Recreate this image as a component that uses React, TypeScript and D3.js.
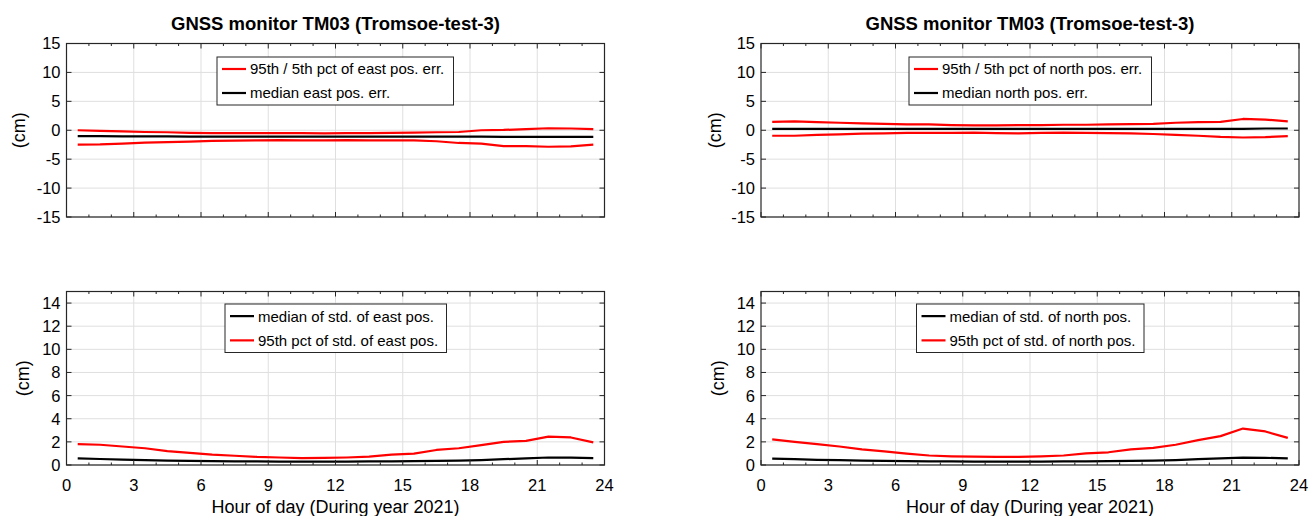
import React from 'react'
import * as d3 from 'd3'

// hourly bins, centred on the half hour
const hours = d3.range(24).map(h => h + 0.5)

const eastUpper = [0.0, -0.1, -0.2, -0.3, -0.35, -0.45, -0.5, -0.5, -0.5, -0.5, -0.5, -0.55, -0.5, -0.5, -0.45, -0.4, -0.35, -0.3, 0.0, 0.05, 0.2, 0.35, 0.3, 0.2]
const eastLower = [-2.5, -2.45, -2.3, -2.15, -2.05, -1.95, -1.85, -1.8, -1.75, -1.7, -1.75, -1.75, -1.7, -1.75, -1.75, -1.75, -1.9, -2.2, -2.3, -2.75, -2.75, -2.85, -2.8, -2.5]
const eastMedian = [-1.0, -1.0, -1.05, -1.05, -1.05, -1.1, -1.1, -1.1, -1.1, -1.1, -1.1, -1.1, -1.1, -1.1, -1.1, -1.1, -1.1, -1.1, -1.1, -1.15, -1.15, -1.15, -1.15, -1.15]

const northUpper = [1.45, 1.55, 1.4, 1.3, 1.2, 1.1, 1.0, 1.0, 0.9, 0.85, 0.85, 0.9, 0.9, 0.95, 0.95, 1.0, 1.05, 1.1, 1.3, 1.4, 1.45, 1.95, 1.85, 1.55]
const northLower = [-0.95, -0.95, -0.8, -0.7, -0.6, -0.55, -0.45, -0.45, -0.45, -0.4, -0.5, -0.55, -0.45, -0.4, -0.45, -0.5, -0.55, -0.65, -0.8, -0.95, -1.15, -1.25, -1.2, -1.0]
const northMedian = [0.25, 0.25, 0.25, 0.25, 0.25, 0.25, 0.25, 0.25, 0.25, 0.25, 0.25, 0.25, 0.25, 0.25, 0.25, 0.25, 0.25, 0.25, 0.25, 0.25, 0.25, 0.25, 0.3, 0.3]

const eastStd95 = [1.8, 1.75, 1.6, 1.45, 1.2, 1.05, 0.9, 0.8, 0.7, 0.65, 0.6, 0.62, 0.65, 0.72, 0.9, 0.98, 1.3, 1.45, 1.72, 2.0, 2.08, 2.45, 2.38, 1.95]
const eastStdMedian = [0.58, 0.52, 0.47, 0.42, 0.38, 0.35, 0.33, 0.32, 0.31, 0.3, 0.3, 0.3, 0.3, 0.31, 0.32, 0.33, 0.35, 0.37, 0.42, 0.5, 0.58, 0.65, 0.64, 0.6]
const northStd95 = [2.22, 2.0, 1.8, 1.6, 1.35, 1.18, 0.98, 0.82, 0.75, 0.72, 0.7, 0.7, 0.75, 0.82, 1.0, 1.1, 1.35, 1.48, 1.75, 2.15, 2.5, 3.15, 2.9, 2.35]
const northStdMedian = [0.55, 0.5, 0.45, 0.42, 0.38, 0.35, 0.33, 0.32, 0.31, 0.3, 0.3, 0.3, 0.3, 0.31, 0.32, 0.33, 0.35, 0.37, 0.42, 0.5, 0.57, 0.63, 0.62, 0.57]

const xTicks = [0, 3, 6, 9, 12, 15, 18, 21, 24]
const errTicks = [-15, -10, -5, 0, 5, 10, 15]
const stdTicks = [0, 2, 4, 6, 8, 10, 12, 14]

const title = 'GNSS monitor TM03 (Tromsoe-test-3)'
const xTitle = 'Hour of day (During year 2021)'
const yTitle = '(cm)'

const FONT = '"Liberation Sans", Arial, Helvetica, sans-serif'
const RED = '#ff0000'
const BLACK = '#000000'
const AXIS = '#262626'

type Series = { values: number[], color: string }
type LegendItem = { color: string, label: string }

function Panel (props: {
  left: number, top: number, width: number, height: number,
  yDomain: [number, number], yTicks: number[], series: Series[],
  legend: LegendItem[], legendBox: { x: number, y: number, w: number, h: number },
  showTitle: boolean, showXLabels: boolean, yLabelX: number
}) {
  const { left, top, width, height, yDomain, yTicks, series, legend, legendBox, showTitle, showXLabels, yLabelX } = props
  const x = d3.scaleLinear().domain([0, 24]).range([0, width])
  const y = d3.scaleLinear().domain(yDomain).range([height, 0])
  const line = d3.line<number>().x((_, i) => x(hours[i])).y(v => y(v))
  const minor = d3.range(0, 25).filter(h => h % 3 !== 0)
  const rowH = legendBox.h / legend.length
  return <g transform={`translate(${left},${top})`}>
    {/* grid */}
    {xTicks.slice(1, -1).map(v => <line key={'gx' + v} x1={x(v)} x2={x(v)} y1={0} y2={height} stroke='#dfdfdf' strokeWidth={1} />)}
    {yTicks.map(v => <line key={'gy' + v} x1={0} x2={width} y1={y(v)} y2={y(v)} stroke='#dfdfdf' strokeWidth={1} />)}
    {/* data */}
    {series.map((s, i) => <path key={i} d={line(s.values) || ''} fill='none' stroke={s.color} strokeWidth={2.2} strokeLinejoin='round' />)}
    {/* ticks */}
    {xTicks.map(v => <g key={'tx' + v}>
      <line x1={x(v)} x2={x(v)} y1={height} y2={height - 5} stroke={AXIS} />
      <line x1={x(v)} x2={x(v)} y1={0} y2={5} stroke={AXIS} />
    </g>)}
    {minor.map(v => <g key={'mx' + v}>
      <line x1={x(v)} x2={x(v)} y1={height} y2={height - 2.5} stroke={AXIS} />
      <line x1={x(v)} x2={x(v)} y1={0} y2={2.5} stroke={AXIS} />
    </g>)}
    {yTicks.map(v => <g key={'ty' + v}>
      <line x1={0} x2={5} y1={y(v)} y2={y(v)} stroke={AXIS} />
      <line x1={width} x2={width - 5} y1={y(v)} y2={y(v)} stroke={AXIS} />
      <text x={-6} y={y(v)} dy='0.36em' textAnchor='end' fontSize={16.5} fill='#000'>{v}</text>
    </g>)}
    <rect x={0} y={0} width={width} height={height} fill='none' stroke={AXIS} strokeWidth={1.2} />
    {showXLabels && xTicks.map(v => <text key={'lx' + v} x={x(v)} y={height + 26} textAnchor='middle' fontSize={16.5} fill='#000'>{v}</text>)}
    {showXLabels && <text x={width / 2} y={height + 48} textAnchor='middle' fontSize={18} fill='#000'>{xTitle}</text>}
    {showTitle && <text x={width / 2} y={-14} textAnchor='middle' fontSize={18.5} fontWeight='bold' fill='#000'>{title}</text>}
    <text transform={`translate(${yLabelX},${height / 2}) rotate(-90)`} textAnchor='middle' dy='0.35em' fontSize={18} fill='#000'>{yTitle}</text>
    {/* legend */}
    <g transform={`translate(${legendBox.x},${legendBox.y})`}>
      <rect x={0} y={0} width={legendBox.w} height={legendBox.h} fill='#fff' stroke={AXIS} strokeWidth={1} />
      {legend.map((l, i) => <g key={i} transform={`translate(0,${rowH * (i + 0.5)})`}>
        <line x1={5} x2={29} y1={0} y2={0} stroke={l.color} strokeWidth={2.2} />
        <text x={33} y={0} dy='0.36em' fontSize={15} fill='#000'>{l.label}</text>
      </g>)}
    </g>
  </g>
}

export default function App () {
  const W = 538
  const H1 = 173.5
  const cols = [66.5, 761]
  const topY = 43.5
  const botY = 291.5
  return <svg width={1309} height={516} style={{ position: 'absolute', left: 0, top: 0, background: '#fff', fontFamily: FONT }}>
    <rect width={1309} height={516} fill='#fff' />
    <Panel left={cols[0]} top={topY} width={W} height={H1} yDomain={[-15, 15]} yTicks={errTicks} yLabelX={-48}
      series={[
        { values: eastUpper, color: RED },
        { values: eastLower, color: RED },
        { values: eastMedian, color: BLACK }
      ]}
      legend={[{ color: RED, label: '95th / 5th pct of east pos. err.' }, { color: BLACK, label: 'median east pos. err.' }]}
      legendBox={{ x: 150.5, y: 13.5, w: 236.5, h: 48 }} showTitle showXLabels={false} />
    <Panel left={cols[1]} top={topY} width={W} height={H1} yDomain={[-15, 15]} yTicks={errTicks} yLabelX={-46}
      series={[
        { values: northUpper, color: RED },
        { values: northLower, color: RED },
        { values: northMedian, color: BLACK }
      ]}
      legend={[{ color: RED, label: '95th / 5th pct of north pos. err.' }, { color: BLACK, label: 'median north pos. err.' }]}
      legendBox={{ x: 148, y: 13.5, w: 242.5, h: 48 }} showTitle showXLabels={false} />
    <Panel left={cols[0]} top={botY} width={W} height={H1} yDomain={[0, 15]} yTicks={stdTicks} yLabelX={-44}
      series={[
        { values: eastStdMedian, color: BLACK },
        { values: eastStd95, color: RED }
      ]}
      legend={[{ color: BLACK, label: 'median of std. of east pos.' }, { color: RED, label: '95th pct of std. of east pos.' }]}
      legendBox={{ x: 158.5, y: 12.5, w: 221.5, h: 48.5 }} showTitle={false} showXLabels />
    <Panel left={cols[1]} top={botY} width={W} height={H1} yDomain={[0, 15]} yTicks={stdTicks} yLabelX={-43}
      series={[
        { values: northStdMedian, color: BLACK },
        { values: northStd95, color: RED }
      ]}
      legend={[{ color: BLACK, label: 'median of std. of north pos.' }, { color: RED, label: '95th pct of std. of north pos.' }]}
      legendBox={{ x: 155.5, y: 12.5, w: 227.5, h: 48.5 }} showTitle={false} showXLabels />
  </svg>
}
